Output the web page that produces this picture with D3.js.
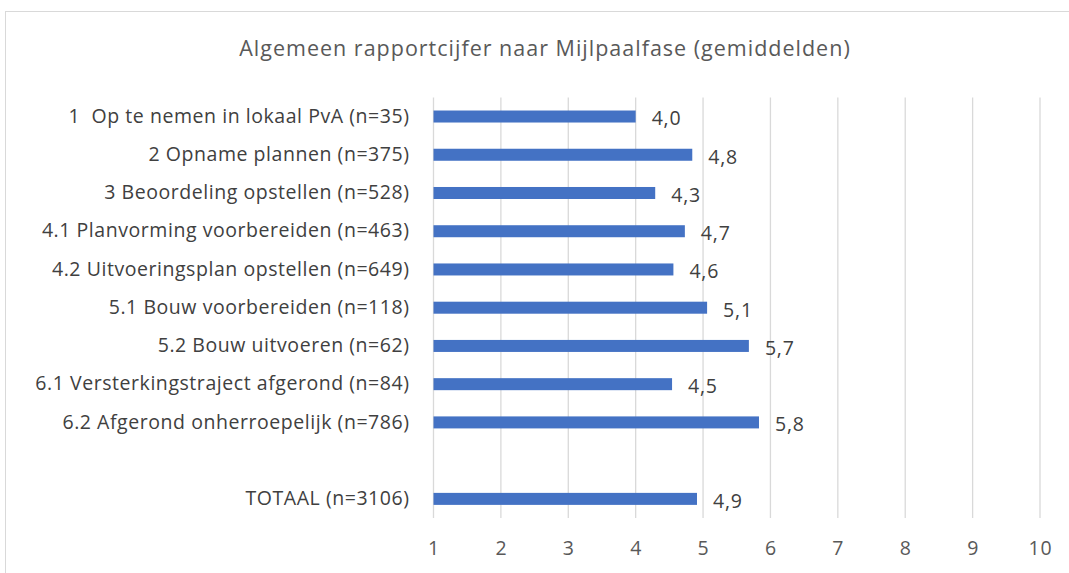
<!DOCTYPE html>
<html>
<head>
<meta charset="utf-8">
<script src="https://cdn.jsdelivr.net/npm/d3@7"></script>
<style>
  body { margin: 0; background: #ffffff; }
  svg { display: block; font-family: "Open Sans", "Noto Sans", sans-serif; }
</style>
</head>
<body>
<svg id="chart"></svg>
<script>
const categories = [
  "1  Op te nemen in lokaal PvA (n=35)",
  "2 Opname plannen (n=375)",
  "3 Beoordeling opstellen (n=528)",
  "4.1 Planvorming voorbereiden (n=463)",
  "4.2 Uitvoeringsplan opstellen (n=649)",
  "5.1 Bouw voorbereiden (n=118)",
  "5.2 Bouw uitvoeren (n=62)",
  "6.1 Versterkingstraject afgerond (n=84)",
  "6.2 Afgerond onherroepelijk (n=786)",
  "",
  "TOTAAL (n=3106)"
];
const values = [4.0, 4.84, 4.29, 4.73, 4.56, 5.06, 5.68, 4.54, 5.83, null, 4.91];
const xTicks = [1, 2, 3, 4, 5, 6, 7, 8, 9, 10];
const title = "Algemeen rapportcijfer naar Mijlpaalfase (gemiddelden)";

const W = 1069, H = 573;
const margin = { top: 97.4, right: 29, bottom: 55, left: 433.5 };

const svg = d3.select('#chart')
  .attr('width', W)
  .attr('height', H);

// chart frame (cropped on right and bottom like the source)
svg.append('rect')
  .attr('x', 5.5).attr('y', 11.5)
  .attr('width', W + 10).attr('height', H + 10)
  .attr('fill', '#fff')
  .attr('stroke', '#d9d9d9')
  .attr('stroke-width', 1);

const rows = categories.map((c, i) => ({ key: i, label: c, value: values[i] }));

const x = d3.scaleLinear()
  .domain([1, 10])
  .range([margin.left, W - margin.right]);

const y = d3.scaleBand()
  .domain(rows.map(d => d.key))
  .range([margin.top, H - margin.bottom])
  .paddingInner(0.686)
  .paddingOuter(0.343);

const nl = d3.formatLocale({ decimal: ",", thousands: ".", grouping: [3], currency: ["€", ""] });
const fmt = nl.format(".1f");

// title
svg.append('text')
  .attr('x', 545)
  .attr('y', 48)
  .attr('dy', '0.35em')
  .attr('text-anchor', 'middle')
  .attr('fill', '#595959')
  .attr('font-size', '21.5px')
  .attr('letter-spacing', '1px')
  .text(title);

// vertical gridlines
svg.append('g')
  .selectAll('line')
  .data(xTicks)
  .enter().append('line')
  .attr('x1', d => x(d)).attr('x2', d => x(d))
  .attr('y1', margin.top).attr('y2', H - margin.bottom)
  .attr('stroke', '#d9d9d9')
  .attr('stroke-width', 1.3);

// x axis labels
const xAxis = svg.append('g')
  .attr('transform', `translate(0,${H - margin.bottom})`)
  .call(d3.axisBottom(x).tickValues(xTicks).tickSize(0).tickPadding(23));
xAxis.select('.domain').remove();
xAxis.selectAll('text')
  .attr('fill', '#595959')
  .attr('font-size', '19.5px')
  .attr('letter-spacing', '0.8px')
  .attr('font-family', '"Open Sans", "Noto Sans", sans-serif');

// y axis labels
const yAxis = svg.append('g')
  .attr('transform', `translate(${margin.left},0)`)
  .call(d3.axisLeft(y).tickFormat(k => categories[k]).tickSize(0).tickPadding(24));
yAxis.select('.domain').remove();
yAxis.selectAll('text')
  .attr('fill', '#404040')
  .attr('font-size', '19.5px')
  .attr('letter-spacing', '0.55px')
  .attr('font-family', '"Open Sans", "Noto Sans", sans-serif')
  .style('white-space', 'pre');

// bars
const barData = rows.filter(d => d.value != null);
svg.append('g')
  .selectAll('rect')
  .data(barData)
  .enter().append('rect')
  .attr('x', x(1))
  .attr('y', d => y(d.key))
  .attr('width', d => x(d.value) - x(1))
  .attr('height', y.bandwidth())
  .attr('fill', '#4472c4');

// value labels
svg.append('g')
  .selectAll('text')
  .data(barData)
  .enter().append('text')
  .attr('x', d => x(d.value) + 16)
  .attr('y', d => y(d.key) + y.bandwidth() / 2 + 2)
  .attr('dy', '0.35em')
  .attr('fill', '#404040')
  .attr('font-size', '19.5px')
  .attr('letter-spacing', '0.8px')
  .text(d => fmt(d.value));
</script>
</body>
</html>
